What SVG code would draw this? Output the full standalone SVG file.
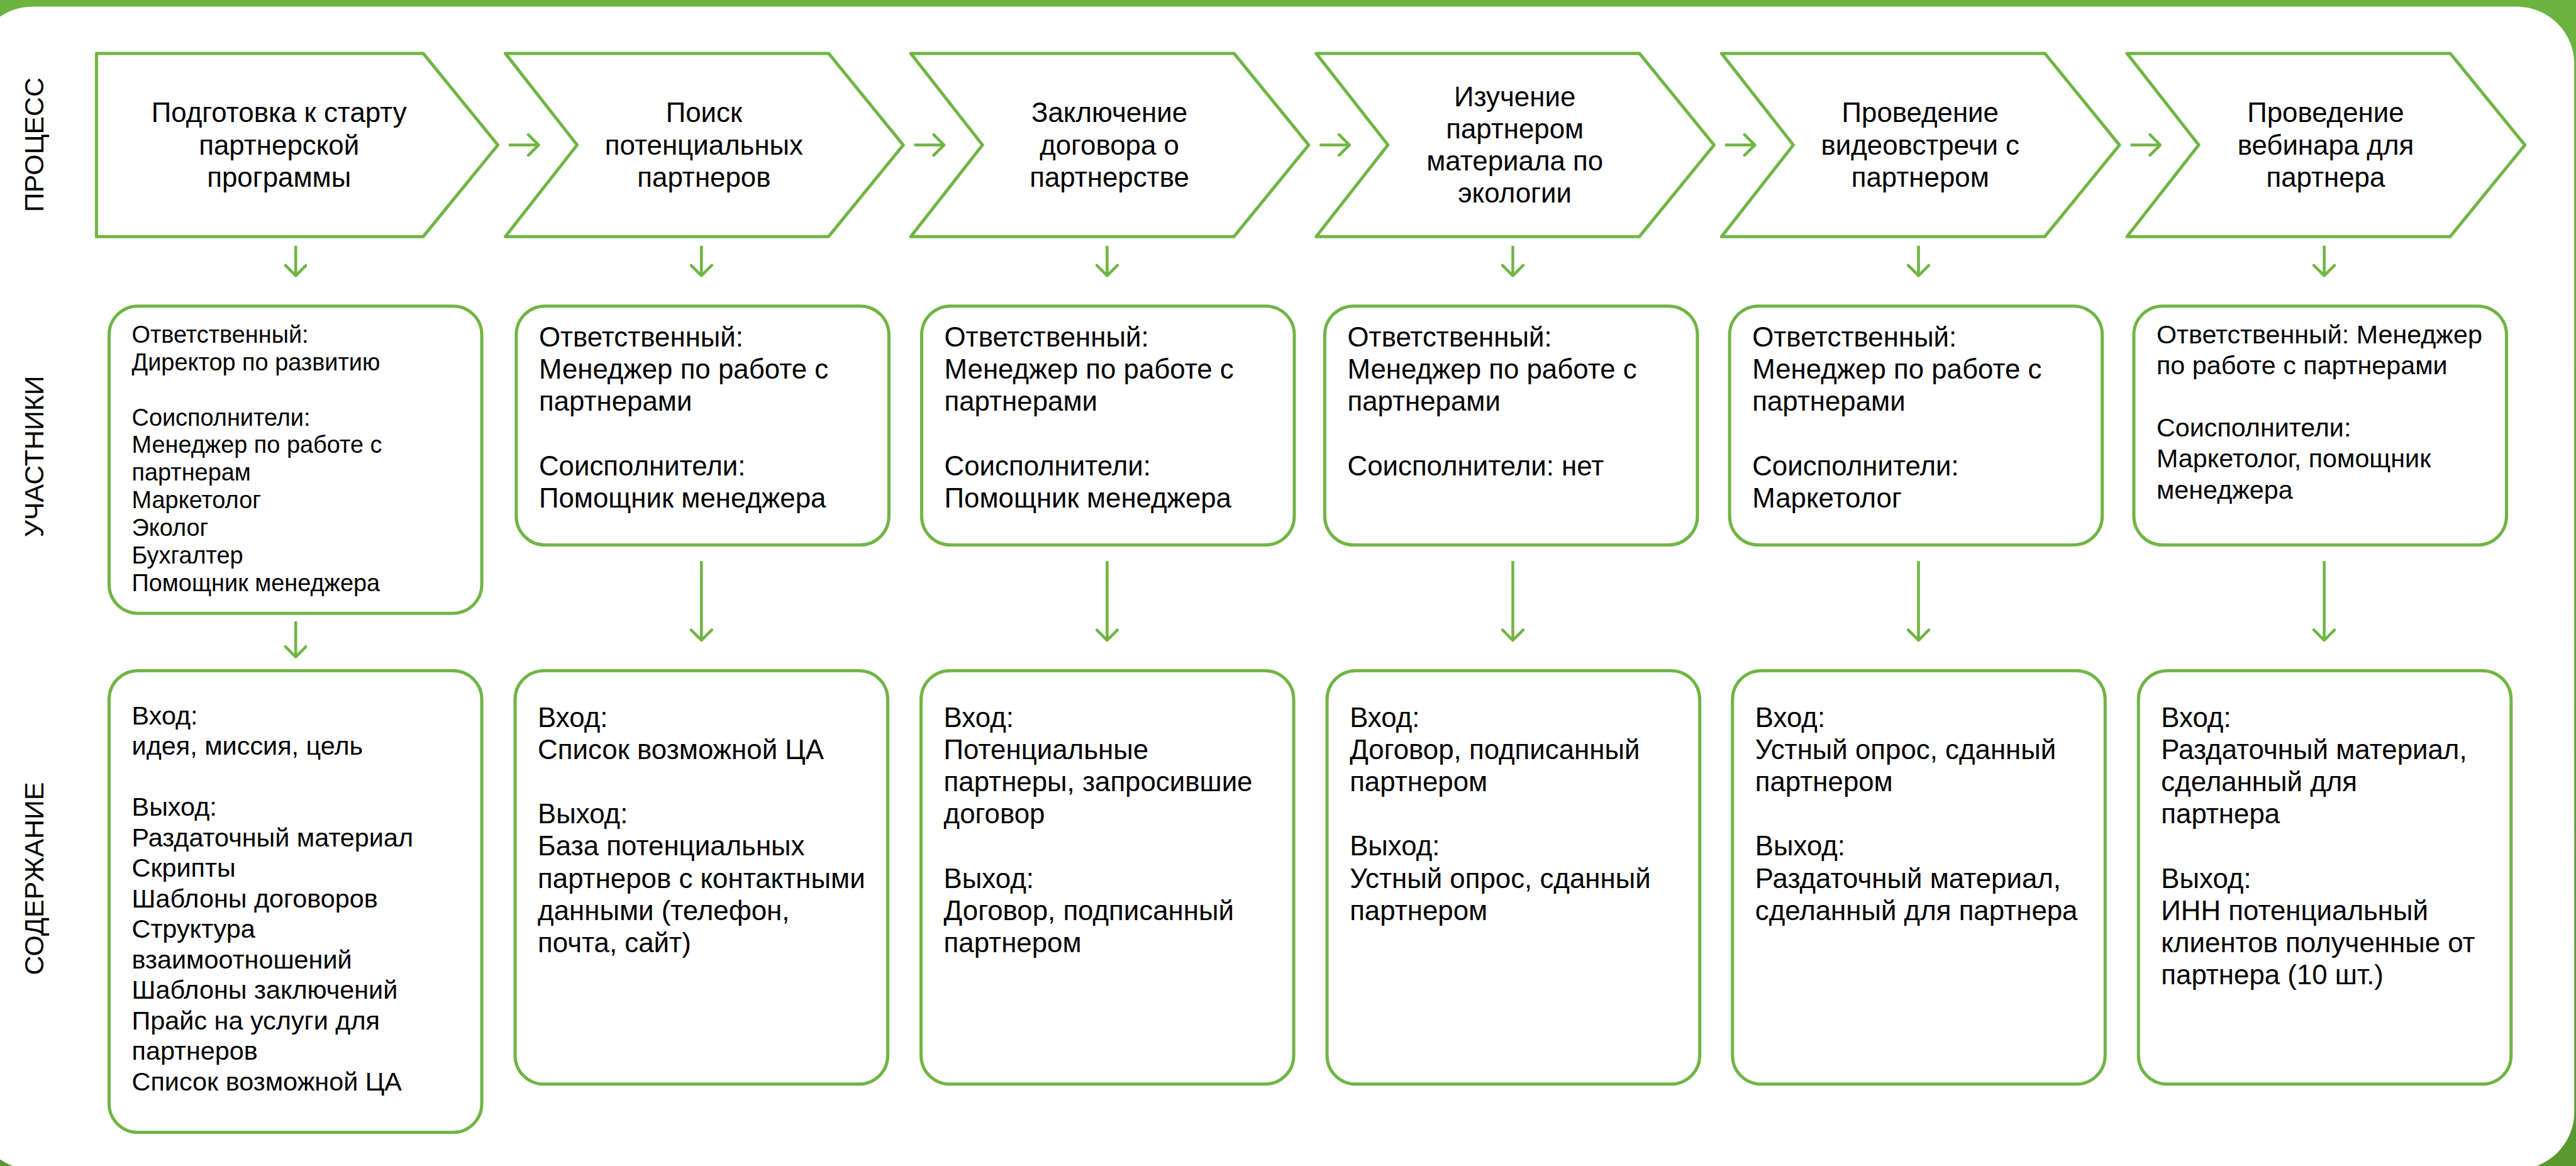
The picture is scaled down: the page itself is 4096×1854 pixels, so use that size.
<svg xmlns="http://www.w3.org/2000/svg" width="4096" height="1854" viewBox="0 0 4096 1854">
<defs>
<linearGradient id="frameGrad" x1="0" y1="0" x2="0" y2="1">
<stop offset="0" stop-color="#6cb33f"/>
<stop offset="1" stop-color="#5a982f"/>
</linearGradient>
<marker id="ah" viewBox="0 0 24 40" refX="21" refY="20" markerWidth="24" markerHeight="40" markerUnits="userSpaceOnUse" orient="auto">
<path d="M3,2 L21,20 L3,38" fill="none" stroke="#70b544" stroke-width="5" stroke-linecap="round" stroke-linejoin="round"/>
</marker>
<style>
.chev{fill:#fff;stroke:#70b544;stroke-width:5.5;stroke-linejoin:round}
.box{fill:#fff;stroke:#70b544;stroke-width:5.5}
.conn{fill:none;stroke:#70b544;stroke-width:5;marker-end:url(#ah)}
.t{font-family:"Liberation Sans",Arial,sans-serif;fill:#000}
.ct{font-size:48px;text-anchor:middle}
.bt{font-size:48px}
.lab{font-size:47px;text-anchor:middle}
</style>
</defs>
<g transform="scale(0.913063)">
<g id="frame">
<rect x="0" y="0" width="4486" height="2031" fill="url(#frameGrad)"/>
<rect x="-43.5" y="11.5" width="4526.5" height="2025" rx="100" ry="100" fill="#fff"/>
</g>
<g id="lane-labels">
<text class="t lab" transform="translate(76,252) rotate(-90)">ПРОЦЕСС</text>
<text class="t lab" transform="translate(76,795) rotate(-90)">УЧАСТНИКИ</text>
<text class="t lab" transform="translate(76,1530) rotate(-90)">СОДЕРЖАНИЕ</text>
</g>
<g id="connectors">
<path class="conn" d="M886,252.5 H938"/>
<path class="conn" d="M1592,252.5 H1644"/>
<path class="conn" d="M2298,252.5 H2350"/>
<path class="conn" d="M3004,252.5 H3056"/>
<path class="conn" d="M3710,252.5 H3762"/>
<path class="conn" d="M515,428 V480"/>
<path class="conn" d="M1221.5,428 V480"/>
<path class="conn" d="M1928,428 V480"/>
<path class="conn" d="M2634.5,428 V480"/>
<path class="conn" d="M3341,428 V480"/>
<path class="conn" d="M4047.5,428 V480"/>
<path class="conn" d="M515,1082 V1144"/>
<path class="conn" d="M1221.5,977 V1115"/>
<path class="conn" d="M1928,977 V1115"/>
<path class="conn" d="M2634.5,977 V1115"/>
<path class="conn" d="M3341,977 V1115"/>
<path class="conn" d="M4047.5,977 V1115"/>
</g>
<g id="step1">
<path class="chev" d="M168,93 L737,93 L867,252.5 L737,412 L168,412 Z"/>
<text class="t ct"><tspan x="486" y="213">Подготовка к старту</tspan><tspan x="486" y="269">партнерской</tspan><tspan x="486" y="325">программы</tspan></text>
</g>
<g id="step2">
<path class="chev" d="M880,93 L1443,93 L1573,252.5 L1443,412 L880,412 L1005,252.5 Z"/>
<text class="t ct"><tspan x="1226" y="213">Поиск</tspan><tspan x="1226" y="269">потенциальных</tspan><tspan x="1226" y="325">партнеров</tspan></text>
</g>
<g id="step3">
<path class="chev" d="M1586,93 L2149,93 L2279,252.5 L2149,412 L1586,412 L1711,252.5 Z"/>
<text class="t ct"><tspan x="1932" y="213">Заключение</tspan><tspan x="1932" y="269">договора о</tspan><tspan x="1932" y="325">партнерстве</tspan></text>
</g>
<g id="step4">
<path class="chev" d="M2292,93 L2855,93 L2985,252.5 L2855,412 L2292,412 L2417,252.5 Z"/>
<text class="t ct"><tspan x="2638" y="185">Изучение</tspan><tspan x="2638" y="241">партнером</tspan><tspan x="2638" y="297">материала по</tspan><tspan x="2638" y="353">экологии</tspan></text>
</g>
<g id="step5">
<path class="chev" d="M2998,93 L3561,93 L3691,252.5 L3561,412 L2998,412 L3123,252.5 Z"/>
<text class="t ct"><tspan x="3344" y="213">Проведение</tspan><tspan x="3344" y="269">видеовстречи с</tspan><tspan x="3344" y="325">партнером</tspan></text>
</g>
<g id="step6">
<path class="chev" d="M3704,93 L4267,93 L4397,252.5 L4267,412 L3704,412 L3829,252.5 Z"/>
<text class="t ct"><tspan x="4050" y="213">Проведение</tspan><tspan x="4050" y="269">вебинара для</tspan><tspan x="4050" y="325">партнера</tspan></text>
</g>
<g id="participants1">
<rect class="box" x="190" y="533" width="649" height="535" rx="50"/>
<text class="t" font-size="41.5"><tspan x="229.5" y="597">Ответственный:</tspan><tspan x="229.5" y="645">Директор по развитию</tspan><tspan x="229.5" y="741">Соисполнители:</tspan><tspan x="229.5" y="789">Менеджер по работе с</tspan><tspan x="229.5" y="837">партнерам</tspan><tspan x="229.5" y="885">Маркетолог</tspan><tspan x="229.5" y="933">Эколог</tspan><tspan x="229.5" y="981">Бухгалтер</tspan><tspan x="229.5" y="1029">Помощник менеджера</tspan></text>
</g>
<g id="participants2">
<rect class="box" x="899" y="533" width="649" height="416" rx="50"/>
<text class="t bt"><tspan x="938.5" y="603.5">Ответственный:</tspan><tspan x="938.5" y="659.5">Менеджер по работе с</tspan><tspan x="938.5" y="715.5">партнерами</tspan><tspan x="938.5" y="827.5">Соисполнители:</tspan><tspan x="938.5" y="883.5">Помощник менеджера</tspan></text>
</g>
<g id="participants3">
<rect class="box" x="1605" y="533" width="649" height="416" rx="50"/>
<text class="t bt"><tspan x="1644.5" y="603.5">Ответственный:</tspan><tspan x="1644.5" y="659.5">Менеджер по работе с</tspan><tspan x="1644.5" y="715.5">партнерами</tspan><tspan x="1644.5" y="827.5">Соисполнители:</tspan><tspan x="1644.5" y="883.5">Помощник менеджера</tspan></text>
</g>
<g id="participants4">
<rect class="box" x="2307" y="533" width="649" height="416" rx="50"/>
<text class="t bt"><tspan x="2346.5" y="603.5">Ответственный:</tspan><tspan x="2346.5" y="659.5">Менеджер по работе с</tspan><tspan x="2346.5" y="715.5">партнерами</tspan><tspan x="2346.5" y="827.5">Соисполнители: нет</tspan></text>
</g>
<g id="participants5">
<rect class="box" x="3012" y="533" width="649" height="416" rx="50"/>
<text class="t bt"><tspan x="3051.5" y="603.5">Ответственный:</tspan><tspan x="3051.5" y="659.5">Менеджер по работе с</tspan><tspan x="3051.5" y="715.5">партнерами</tspan><tspan x="3051.5" y="827.5">Соисполнители:</tspan><tspan x="3051.5" y="883.5">Маркетолог</tspan></text>
</g>
<g id="participants6">
<rect class="box" x="3716" y="533" width="649" height="416" rx="50"/>
<text class="t" font-size="45.2"><tspan x="3755.5" y="598">Ответственный: Менеджер</tspan><tspan x="3755.5" y="652">по работе с партнерами</tspan><tspan x="3755.5" y="760">Соисполнители:</tspan><tspan x="3755.5" y="814">Маркетолог, помощник</tspan><tspan x="3755.5" y="868">менеджера</tspan></text>
</g>
<g id="content1">
<rect class="box" x="190" y="1168" width="649" height="804" rx="50"/>
<text class="t" font-size="45.3"><tspan x="229.5" y="1261.5">Вход:</tspan><tspan x="229.5" y="1314.6">идея, миссия, цель</tspan><tspan x="229.5" y="1420.8">Выход:</tspan><tspan x="229.5" y="1473.9">Раздаточный материал</tspan><tspan x="229.5" y="1527">Скрипты</tspan><tspan x="229.5" y="1580.1">Шаблоны договоров</tspan><tspan x="229.5" y="1633.2">Структура</tspan><tspan x="229.5" y="1686.3">взаимоотношений</tspan><tspan x="229.5" y="1739.4">Шаблоны заключений</tspan><tspan x="229.5" y="1792.5">Прайс на услуги для</tspan><tspan x="229.5" y="1845.6">партнеров</tspan><tspan x="229.5" y="1898.7">Список возможной ЦА</tspan></text>
</g>
<g id="content2">
<rect class="box" x="897" y="1168" width="649" height="720" rx="50"/>
<text class="t bt"><tspan x="936.5" y="1266">Вход:</tspan><tspan x="936.5" y="1322">Список возможной ЦА</tspan><tspan x="936.5" y="1434">Выход:</tspan><tspan x="936.5" y="1490">База потенциальных</tspan><tspan x="936.5" y="1546">партнеров с контактными</tspan><tspan x="936.5" y="1602">данными (телефон,</tspan><tspan x="936.5" y="1658">почта, сайт)</tspan></text>
</g>
<g id="content3">
<rect class="box" x="1604" y="1168" width="649" height="720" rx="50"/>
<text class="t bt"><tspan x="1643.5" y="1266">Вход:</tspan><tspan x="1643.5" y="1322">Потенциальные</tspan><tspan x="1643.5" y="1378">партнеры, запросившие</tspan><tspan x="1643.5" y="1434">договор</tspan><tspan x="1643.5" y="1546">Выход:</tspan><tspan x="1643.5" y="1602">Договор, подписанный</tspan><tspan x="1643.5" y="1658">партнером</tspan></text>
</g>
<g id="content4">
<rect class="box" x="2311" y="1168" width="649" height="720" rx="50"/>
<text class="t bt"><tspan x="2350.5" y="1266">Вход:</tspan><tspan x="2350.5" y="1322">Договор, подписанный</tspan><tspan x="2350.5" y="1378">партнером</tspan><tspan x="2350.5" y="1490">Выход:</tspan><tspan x="2350.5" y="1546">Устный опрос, сданный</tspan><tspan x="2350.5" y="1602">партнером</tspan></text>
</g>
<g id="content5">
<rect class="box" x="3017" y="1168" width="649" height="720" rx="50"/>
<text class="t bt"><tspan x="3056.5" y="1266">Вход:</tspan><tspan x="3056.5" y="1322">Устный опрос, сданный</tspan><tspan x="3056.5" y="1378">партнером</tspan><tspan x="3056.5" y="1490">Выход:</tspan><tspan x="3056.5" y="1546">Раздаточный материал,</tspan><tspan x="3056.5" y="1602">сделанный для партнера</tspan></text>
</g>
<g id="content6">
<rect class="box" x="3724" y="1168" width="649" height="720" rx="50"/>
<text class="t bt"><tspan x="3763.5" y="1266">Вход:</tspan><tspan x="3763.5" y="1322">Раздаточный материал,</tspan><tspan x="3763.5" y="1378">сделанный для</tspan><tspan x="3763.5" y="1434">партнера</tspan><tspan x="3763.5" y="1546">Выход:</tspan><tspan x="3763.5" y="1602">ИНН потенциальный</tspan><tspan x="3763.5" y="1658">клиентов полученные от</tspan><tspan x="3763.5" y="1714">партнера (10 шт.)</tspan></text>
</g>
</g>
</svg>
